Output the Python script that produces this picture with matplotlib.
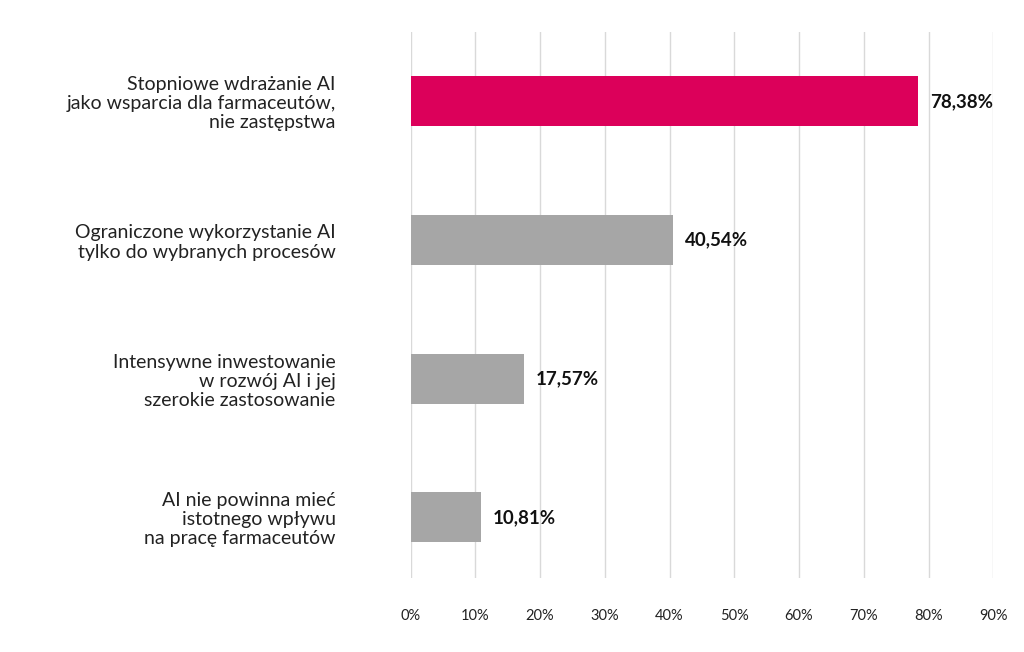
import matplotlib
matplotlib.use("Agg")
import matplotlib.pyplot as plt

categories = [
    "Stopniowe wdrażanie AI\njako wsparcia dla farmaceutów,\nnie zastępstwa",
    "Ograniczone wykorzystanie AI\ntylko do wybranych procesów",
    "Intensywne inwestowanie\nw rozwój AI i jej\nszerokie zastosowanie",
    "AI nie powinna mieć\nistotnego wpływu\nna pracę farmaceutów",
]
values = [78.38, 40.54, 17.57, 10.81]
value_labels = ["78,38%", "40,54%", "17,57%", "10,81%"]
colors = ["#dc005a", "#a6a6a6", "#a6a6a6", "#a6a6a6"]
xticks = list(range(0, 91, 10))

plt.rcParams["font.family"] = "Lato"
fig = plt.figure(figsize=(10.24, 6.52), dpi=100)
ax = fig.add_axes([0.401, 0.113, 0.569, 0.838])

pos = list(range(len(categories)))
ax.barh(pos, values, height=0.36, color=colors, zorder=3)
for p, v, lab in zip(pos, values, value_labels):
    ax.text(v + 1.8, p, lab, va="center", ha="left", fontsize=13.5,
            fontweight="bold", color="#111111")

ax.set_xlim(0, 90)
ax.set_ylim(3.44, -0.5)
ax.set_xticks(xticks)
ax.set_xticklabels([f"{t}%" for t in xticks], fontsize=10.5, color="#222222")
ax.set_yticks(pos)
ax.set_yticklabels(categories, fontsize=14, color="#222222", linespacing=1.15)
ax.tick_params(axis="y", length=0, pad=54)
ax.tick_params(axis="x", length=0, pad=22)
ax.grid(axis="x", color="#d9d9d9", linewidth=1, zorder=0)
for s in ax.spines.values():
    s.set_visible(False)

fig.savefig("out.png", dpi=100)
